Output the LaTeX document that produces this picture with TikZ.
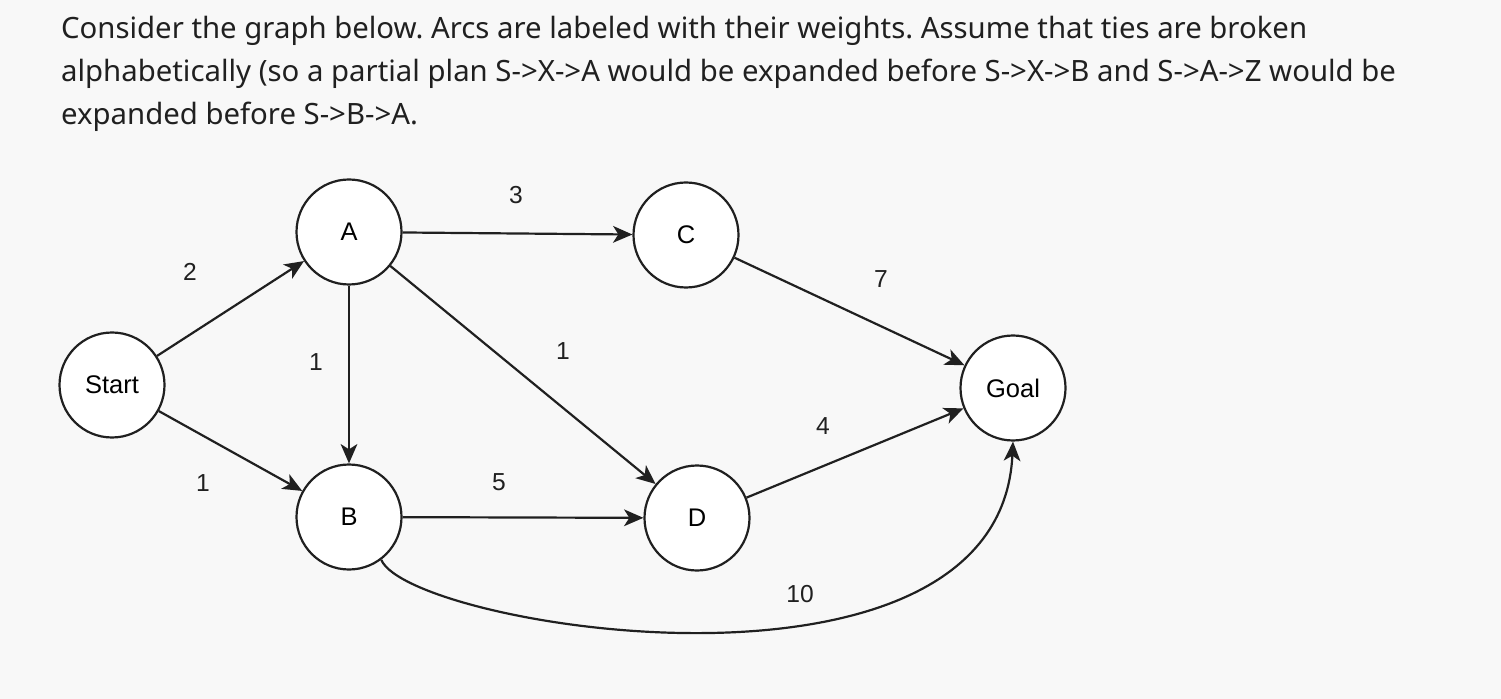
\documentclass[tikz,border=0pt]{standalone}
\usepackage{fontspec}
\setmainfont{Noto Sans}
\newfontfamily\arcfont{Liberation Sans}
\usepackage{xcolor}
\usetikzlibrary{arrows.meta}
\definecolor{pagebg}{HTML}{F8F8F8}
\definecolor{inkgray}{HTML}{202020}
\frenchspacing

\begin{document}
\begin{tikzpicture}[line width=1.25pt, draw=inkgray,
	state/.style={circle, draw=inkgray, fill=white, minimum size=2.1cm, inner sep=0pt, font=\arcfont\fontsize{14.5}{16}\selectfont},
	weight/.style={font=\arcfont\fontsize{14}{16}\selectfont, text=inkgray},
	arc/.style={draw=inkgray, -{Stealth[length=11pt, width=9.5pt, inset=3pt]}},
	intro/.style={anchor=base west, inner sep=0pt, text=inkgray, font=\fontsize{16.7}{24}\selectfont}]
			\useasboundingbox[fill=pagebg] (0,0) rectangle (30.02,-13.98);

			% QUESTION TEXT
			\node[intro] (line1) at (1.2,-0.78) {Consider the graph below. Arcs are labeled with their weights. Assume that ties are broken};
			\node[intro] (line2) at (1.2,-1.64) {alphabetically (so a partial plan S->X->A would be expanded before S->X->B and S->A->Z would be};
			\node[intro] (line3) at (1.2,-2.50) {expanded before S->B->A.};

			% STATES
			\node[state] (S) at (2.24,-7.70) {Start};
			\node[state] (A) at (6.98,-4.64) {A};
			\node[state] (C) at (13.72,-4.70) {C};
			\node[state] (B) at (6.98,-10.34) {B};
			\node[state] (D) at (13.94,-10.36) {D};
			\node[state] (G) at (20.26,-7.76) {Goal};

			% ARCS
			\draw [arc] (S) -- (A);
			\draw [arc] (S) -- (B);
			\draw [arc] (A) -- (C);
			\draw [arc] (A) -- (B);
			\draw [arc] (A) -- (D);
			\draw [arc] (B) -- (D);
			\draw [arc] (C) -- (G);
			\draw [arc] (D) -- (G);
			\draw [arc] (B.-53) .. controls (8.2,-12.55) and (20.0,-14.45) .. (G.-90);

			% WEIGHTS
			\node[weight] (wSA) at (3.80,-5.44) {2};
			\node[weight] (wSB) at (4.06,-9.66) {1};
			\node[weight] (wAB) at (6.32,-7.24) {1};
			\node[weight] (wAC) at (10.32,-3.90) {3};
			\node[weight] (wAD) at (11.26,-7.02) {1};
			\node[weight] (wCG) at (17.62,-5.58) {7};
			\node[weight] (wBD) at (9.98,-9.64) {5};
			\node[weight] (wDG) at (16.46,-8.52) {4};
			\node[weight] (wBG) at (16.00,-11.88) {10};
		\end{tikzpicture}
\end{document}
